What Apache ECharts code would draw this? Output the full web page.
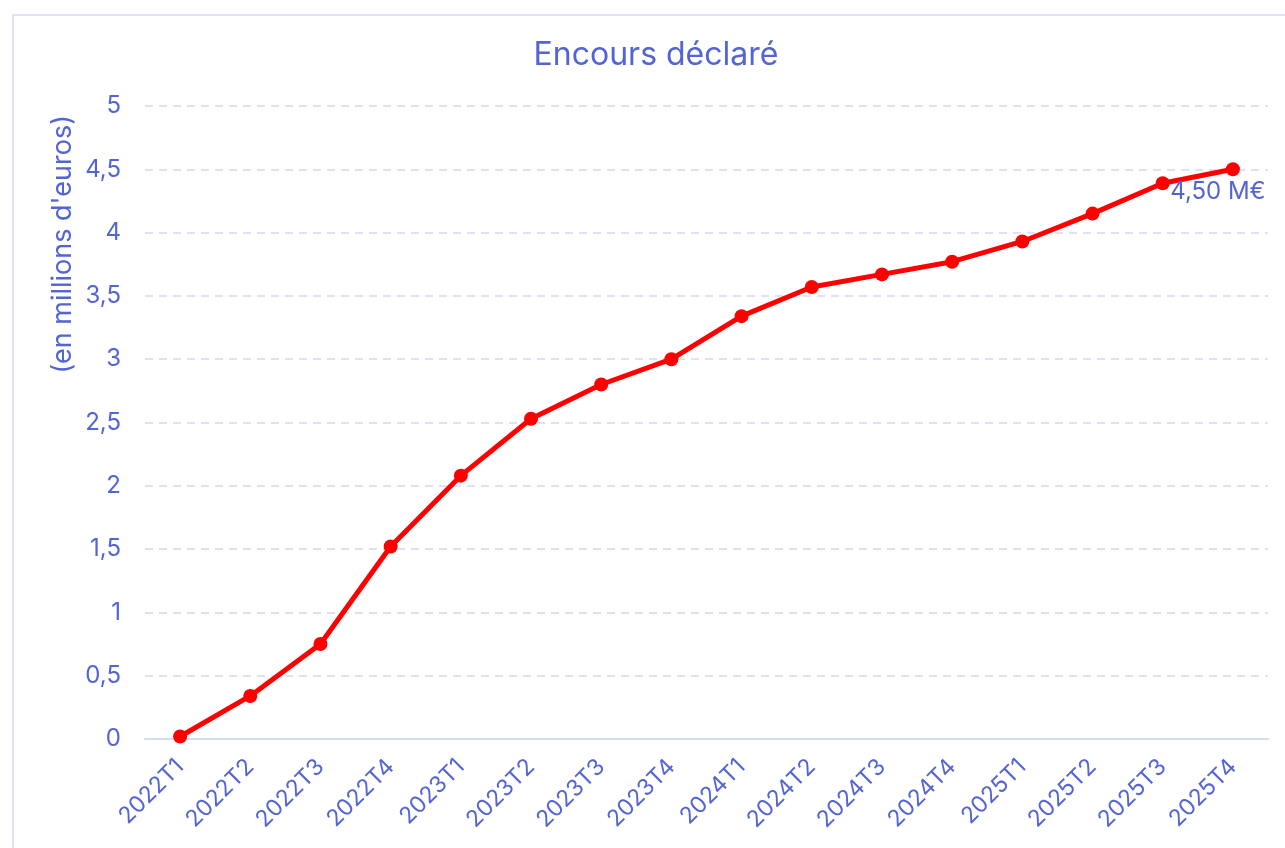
<!DOCTYPE html>
<html>
<head>
<meta charset="utf-8">
<script src="https://cdn.jsdelivr.net/npm/echarts@6/dist/echarts.min.js"></script>
<style>
	html, body { margin: 0; padding: 0; background: #fff; overflow: hidden; width: 1285px; height: 848px; }
	#box { position: absolute; left: 12px; top: 14px; width: 1288px; height: 900px; border: 2px solid #dfe3f8; box-sizing: border-box; }
	#chart { position: absolute; left: 0; top: 0; width: 100%; height: 100%; }
</style>
</head>
<body>
<div id="box"><div id="chart"></div></div>
<script>
	var categories = ['2022T1', '2022T2', '2022T3', '2022T4', '2023T1', '2023T2', '2023T3', '2023T4',
		'2024T1', '2024T2', '2024T3', '2024T4', '2025T1', '2025T2', '2025T3', '2025T4'];
	var encours = [0.02, 0.34, 0.75, 1.52, 2.08, 2.53, 2.80, 3.00, 3.34, 3.57, 3.67, 3.77, 3.93, 4.15, 4.39, 4.50];
	var titleText = 'Encours déclaré';
	var yName = "(en millions d'euros)";
	var textColor = '#5364d4';

	var fmt = function (v) { return String(v).replace('.', ','); };

	var chart = echarts.init(document.getElementById('chart'));
	var seriesData = encours.map(function (v, i) {
		if (i === encours.length - 1) {
			return {
				value: v,
				label: {
					show: true, position: 'bottom', offset: [-15, -2],
					color: textColor, fontSize: 24, fontFamily: 'Inter',
					formatter: function (p) { return p.value.toFixed(2).replace('.', ',') + ' M€'; }
				}
			};
		}
		return v;
	});
	chart.setOption({
		animation: false,
		title: {
			text: titleText, left: 'center', top: 18,
			textStyle: { color: textColor, fontSize: 32, fontWeight: 'normal', fontFamily: 'Inter' }
		},
		grid: { left: 131, right: 30, top: 90, bottom: 173 },
		xAxis: {
			type: 'category',
			data: categories,
			boundaryGap: true,
			axisLine: { lineStyle: { color: '#d6dbf6', width: 2 } },
			axisTick: { show: false },
			axisLabel: { color: textColor, fontSize: 23, fontFamily: 'Inter', rotate: 45, margin: 24, interval: 0 }
		},
		yAxis: {
			type: 'value', min: 0, max: 5, interval: 0.5,
			axisLine: { show: false },
			axisTick: { show: false },
			axisLabel: { color: textColor, fontSize: 24, fontFamily: 'Inter', margin: 24, formatter: fmt },
			splitLine: { lineStyle: { color: '#dfe2f6', type: [8, 6], width: 2 } }
		},
		graphic: [{
			type: 'text', left: 35, top: 99, rotation: Math.PI / 2,
			style: { text: yName, fill: textColor, fontSize: 27, fontFamily: 'Inter' }
		}],
		series: [{
			type: 'line',
			data: seriesData,
			symbol: 'circle', symbolSize: 14,
			itemStyle: { color: '#ff0000' },
			lineStyle: { color: '#ff0000', width: 5 }
		}]
	});
</script>
</body>
</html>
